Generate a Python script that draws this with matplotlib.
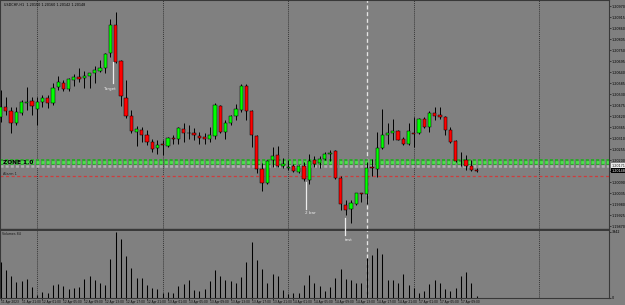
import matplotlib
matplotlib.use("Agg")
import matplotlib.pyplot as plt
import matplotlib.transforms as mtransforms

plt.rcParams['lines.scale_dashes'] = False

symbol = "USDCHF,H1"

opens = [1.20417, 1.20467, 1.20447, 1.20384, 1.20434, 1.20484, 1.20495, 1.20454, 1.20489, 1.20509,
         1.20487, 1.20564, 1.20585, 1.20554, 1.20603, 1.20615, 1.20609, 1.20620, 1.20634, 1.20648,
         1.20659, 1.20734, 1.20875, 1.20695, 1.20509, 1.20420, 1.20342, 1.20350, 1.20325, 1.20292,
         1.20262, 1.20280, 1.20270, 1.20314, 1.20305, 1.20355, 1.20338, 1.20337, 1.20320, 1.20317,
         1.20305, 1.20322, 1.20470, 1.20342, 1.20384, 1.20420, 1.20450, 1.20570, 1.20445, 1.20320,
         1.20159, 1.20087, 1.20200, 1.20225, 1.20170, 1.20160, 1.20172, 1.20143, 1.20170, 1.20104,
         1.20200, 1.20187, 1.20209, 1.20230, 1.20245, 1.20114, 1.19979, 1.19955, 1.19980, 1.20035,
         1.20030, 1.20165, 1.20155, 1.20264, 1.20325, 1.20334, 1.20344, 1.20305, 1.20284, 1.20335,
         1.20334, 1.20405, 1.20367, 1.20434, 1.20425, 1.20414, 1.20350, 1.20295, 1.20198, 1.20200,
         1.20172, 1.20150]
highs = [1.20550, 1.20514, 1.20467, 1.20467, 1.20500, 1.20565, 1.20517, 1.20514, 1.20525, 1.20525,
         1.20584, 1.20620, 1.20600, 1.20610, 1.20630, 1.20662, 1.20644, 1.20638, 1.20672, 1.20700,
         1.20737, 1.20904, 1.20942, 1.20703, 1.20600, 1.20450, 1.20370, 1.20367, 1.20350, 1.20309,
         1.20300, 1.20300, 1.20317, 1.20325, 1.20367, 1.20384, 1.20375, 1.20359, 1.20342, 1.20337,
         1.20364, 1.20484, 1.20475, 1.20400, 1.20425, 1.20479, 1.20580, 1.20580, 1.20450, 1.20325,
         1.20185, 1.20204, 1.20267, 1.20270, 1.20210, 1.20200, 1.20180, 1.20175, 1.20190, 1.20234,
         1.20220, 1.20220, 1.20242, 1.20250, 1.20250, 1.20120, 1.20004, 1.20000, 1.20039, 1.20037,
         1.20192, 1.20209, 1.20342, 1.20455, 1.20384, 1.20404, 1.20350, 1.20317, 1.20384, 1.20417,
         1.20409, 1.20417, 1.20445, 1.20467, 1.20467, 1.20420, 1.20364, 1.20300, 1.20242, 1.20225,
         1.20200, 1.20160]
lows = [1.20390, 1.20425, 1.20334, 1.20375, 1.20425, 1.20450, 1.20425, 1.20375, 1.20467, 1.20460,
        1.20475, 1.20550, 1.20545, 1.20545, 1.20570, 1.20592, 1.20559, 1.20560, 1.20584, 1.20642,
        1.20637, 1.20714, 1.20684, 1.20470, 1.20409, 1.20334, 1.20270, 1.20292, 1.20275, 1.20242,
        1.20234, 1.20225, 1.20267, 1.20284, 1.20284, 1.20292, 1.20309, 1.20300, 1.20284, 1.20284,
        1.20292, 1.20309, 1.20334, 1.20305, 1.20375, 1.20400, 1.20442, 1.20400, 1.20267, 1.20137,
        1.20045, 1.20080, 1.20167, 1.20167, 1.20164, 1.20150, 1.20140, 1.20135, 1.20095, 1.20080,
        1.20167, 1.20164, 1.20200, 1.20195, 1.20105, 1.19950, 1.19925, 1.19887, 1.19979, 1.19992,
        1.19984, 1.20120, 1.20117, 1.20259, 1.20284, 1.20304, 1.20300, 1.20279, 1.20275, 1.20267,
        1.20330, 1.20359, 1.20342, 1.20400, 1.20404, 1.20325, 1.20289, 1.20192, 1.20170, 1.20150,
        1.20147, 1.20142]
closes = [1.20467, 1.20447, 1.20387, 1.20442, 1.20489, 1.20492, 1.20472, 1.20489, 1.20512, 1.20484,
          1.20563, 1.20592, 1.20555, 1.20604, 1.20615, 1.20605, 1.20620, 1.20634, 1.20650, 1.20659,
          1.20730, 1.20875, 1.20689, 1.20520, 1.20420, 1.20345, 1.20354, 1.20325, 1.20292, 1.20259,
          1.20275, 1.20275, 1.20314, 1.20309, 1.20359, 1.20337, 1.20336, 1.20325, 1.20314, 1.20307,
          1.20325, 1.20475, 1.20342, 1.20384, 1.20420, 1.20454, 1.20570, 1.20447, 1.20325, 1.20158,
          1.20087, 1.20197, 1.20220, 1.20170, 1.20180, 1.20168, 1.20147, 1.20170, 1.20107, 1.20197,
          1.20184, 1.20209, 1.20234, 1.20239, 1.20112, 1.19980, 1.19954, 1.19987, 1.20037, 1.20032,
          1.20164, 1.20160, 1.20264, 1.20325, 1.20337, 1.20345, 1.20304, 1.20284, 1.20347, 1.20333,
          1.20404, 1.20367, 1.20437, 1.20422, 1.20417, 1.20350, 1.20292, 1.20195, 1.20195, 1.20170,
          1.20150, 1.20148]
volumes = [2135, 1640, 1285, 929, 1008, 1107, 613, 158, 356, 277,
           751, 830, 672, 534, 573, 613, 1107, 1285, 1048, 870,
           751, 2333, 3942, 3518, 2491, 1779, 1186, 1186, 751, 593,
           514, 297, 316, 257, 712, 810, 1048, 455, 395, 514,
           1000, 1680, 1285, 1087, 988, 850, 1245, 2135, 3321, 2273,
           1700, 850, 1403, 1285, 455, 198, 277, 277, 751, 1344,
           850, 712, 415, 652, 1186, 1700, 1107, 1048, 850, 909,
           2372, 2570, 2965, 2590, 1087, 1048, 909, 1443, 751, 593,
           257, 415, 790, 1048, 909, 494, 395, 573, 1285, 1522,
           889, 84]

price_ticks = [1.20970, 1.20915, 1.20860, 1.20805, 1.20750, 1.20695, 1.20640, 1.20585, 1.20530,
               1.20475, 1.20420, 1.20365, 1.20310, 1.20255, 1.20200, 1.20145, 1.20090, 1.20035,
               1.19980, 1.19925, 1.19870]
time_bars = [0, 4, 8, 12, 16, 20, 24, 28, 32, 36, 40, 44, 48, 52, 56, 60, 64, 68, 72, 76, 80, 84, 88]
time_labels = ["11 Apr 2023", "11 Apr 21:00", "12 Apr 01:00", "12 Apr 05:00", "12 Apr 09:00",
               "12 Apr 13:00", "12 Apr 17:00", "12 Apr 21:00", "13 Apr 01:00", "13 Apr 05:00",
               "13 Apr 09:00", "13 Apr 13:00", "13 Apr 17:00", "13 Apr 21:00", "14 Apr 01:00",
               "14 Apr 05:00", "14 Apr 09:00", "14 Apr 13:00", "14 Apr 17:00", "14 Apr 21:00",
               "17 Apr 01:00", "17 Apr 05:00", "17 Apr 09:00"]
day_starts = [7, 31, 55, 79, 103]
event_bar = 70

zone_top = 1.20192
zone_low = 1.20171
alarm_level = 1.20120

BG = '#808080'
W, H = 625, 305
fig = plt.figure(figsize=(W / 100, H / 100), dpi=100, facecolor=BG)


def pbox(x0, y0, x1, y1):
    return [x0 / W, 1 - y1 / H, (x1 - x0) / W, (y1 - y0) / H]


ax = fig.add_axes(pbox(0, 0, 609, 228.5))
axv = fig.add_axes(pbox(0, 229.5, 609, 297.7), sharex=ax)
ax.set_zorder(3)
for a in (ax, axv):
    a.set_facecolor(BG)
    for s in a.spines.values():
        s.set_color('#383838')
        s.set_linewidth(0.8)
ax.spines['bottom'].set_linewidth(1.0)
axv.spines['top'].set_linewidth(0.7)

n = len(opens)
xs = list(range(n))
ax.set_xlim(-0.115, 116.33)
ax.set_ylim(1.1986, 1.21)
axv.set_ylim(0, 4080)

# period separators and the event line
for d in day_starts:
    for a in (ax, axv):
        a.axvline(d, color='#2c2c2c', lw=0.6, dashes=(0.7, 0.7), zorder=1)
for a in (ax, axv):
    a.axvline(event_bar, color='#e4e4e4', lw=0.95, dashes=(2.9, 1.9), zorder=1)

# zone band and alarm line
ax.axhline(zone_top, color='#2aa82a', lw=4.3, dashes=(2.2, 1.5), zorder=2)
ax.axhline(zone_top, color='#4ee04e', lw=2.0, dashes=(2.2, 1.5), zorder=2)
ax.axhline(zone_low, color='#b0b0b0', lw=1.8, dashes=(2.2, 1.5), zorder=2)
ax.axhline(alarm_level, color='#cf3c3c', lw=0.9, dashes=(2.2, 1.8), zorder=2)

# candles
ax.vlines(xs, lows, highs, color='black', lw=0.7, zorder=4)
body_col = ['#00ff00' if c >= o else '#ff0000' for o, c in zip(opens, closes)]
ax.bar(xs, [c - o for o, c in zip(opens, closes)], bottom=opens, width=0.62,
       color=body_col, edgecolor='black', linewidth=0.35, zorder=5)

# volumes
axv.vlines(xs, 0, volumes, color='black', lw=0.75, zorder=3)

# axes ticks
ax.yaxis.tick_right()
ax.set_yticks(price_ticks)
ax.set_yticklabels([f"{p:.5f}" for p in price_ticks])
ax.tick_params(axis='y', labelsize=2.4, length=1.4, width=0.4, pad=0.8, colors='black')
ax.tick_params(axis='x', bottom=False, labelbottom=False)

axv.yaxis.tick_right()
axv.set_yticks([0, max(volumes)])
axv.set_yticklabels(["0", str(max(volumes))])
axv.tick_params(axis='y', labelsize=2.4, length=1.4, width=0.4, pad=0.8, colors='black')
axv.set_xticks(time_bars)
axv.set_xticklabels(time_labels)
axv.tick_params(axis='x', labelsize=2.1, length=1.3, width=0.4, pad=0.6, colors='black')
for t in axv.get_xticklabels():
    t.set_ha('left')

# highlighted price labels
blend = mtransforms.blended_transform_factory(ax.transAxes, ax.transData)
ax.text(1.004, zone_low, f"{zone_low:.5f}", transform=blend, fontsize=2.4, va='center',
        ha='left', color='#202020', clip_on=False, zorder=10,
        bbox=dict(boxstyle='square,pad=0.2', fc='#e8e8e8', ec='none'))
ax.text(1.004, closes[-1], f"{closes[-1]:.5f}", transform=blend, fontsize=2.4, va='center',
        ha='left', color='white', clip_on=False, zorder=10,
        bbox=dict(boxstyle='square,pad=0.2', fc='black', ec='none'))

# chart texts
fig.text(4 / W, 1 - 4.5 / H,
         f"{symbol}  {opens[-1]:.5f} {highs[-1]:.5f} {lows[-1]:.5f} {closes[-1]:.5f}",
         fontsize=2.4, va='center', ha='left', color='black')
axv.text(0.004, 0.96, f"Volumes {volumes[-1]}", transform=axv.transAxes,
         fontsize=2.3, va='top', ha='left', color='#151515')
ax.text(0.45, 1.20190, "ZONE 1.0", fontsize=4.2, fontweight='bold', color='black',
        va='center', ha='left', zorder=6)
ax.text(0.45, 1.20132, "Alarm 1", fontsize=2.5, color='#202020', va='center', ha='left', zorder=6)

# annotations
note_col = '#ececec'
ax.plot([21.45, 21.45], [1.20692, 1.20584], color=note_col, lw=0.9, zorder=6)
ax.text(20.75, 1.20555, "Target", fontsize=3.0, color=note_col, ha='center', va='center', zorder=6)
ax.plot([58.4, 58.4], [1.20092, 1.19959], color=note_col, lw=0.9, zorder=6)
ax.text(59.3, 1.19935, "2 bar", fontsize=3.0, color=note_col, ha='center', va='center', zorder=6)
ax.plot([65.9, 65.9], [1.19910, 1.19830], color=note_col, lw=0.9, zorder=6, clip_on=False)
ax.text(66.5, 1.19804, "test", fontsize=3.0, color=note_col, ha='center', va='center',
        zorder=6, clip_on=False)

fig.savefig("out.png", dpi=100, facecolor=BG)
